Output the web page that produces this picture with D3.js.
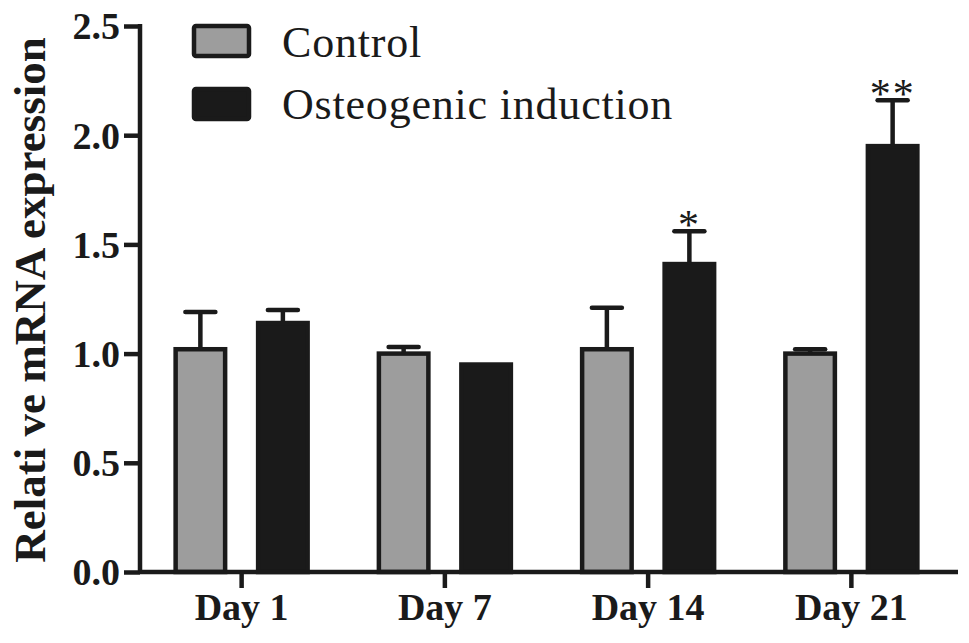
<!DOCTYPE html>
<html>
<head>
<meta charset="utf-8">
<script src="https://cdn.jsdelivr.net/npm/d3@7"></script>
<style>
  body { margin: 0; background: #fff; }
  svg text { font-family: "Liberation Serif", "Times New Roman", serif; }
</style>
</head>
<body>
<div id="chart"></div>
<script>
// datos
const dias = ["Day 1", "Day 7", "Day 14", "Day 21"]
const series = ["Control", "Osteogenic induction"]
const control = [1.02, 1.0, 1.02, 1.0]
const controlErr = [0.17, 0.03, 0.19, 0.02]
const induccion = [1.14, 0.95, 1.41, 1.95]
const induccionErr = [0.06, 0, 0.15, 0.21]
const signif = ["", "", "*", "**"]
const yTicks = [0, 0.5, 1.0, 1.5, 2.0, 2.5]

const anchoTotal = 969
const altoTotal = 643
const colores = { "Control": "#9d9d9d", "Osteogenic induction": "#1a1a1a" }
const negro = "#1a1a1a"

const svg = d3.select("#chart")
  .append("svg")
  .attr("width", anchoTotal)
  .attr("height", altoTotal)

const x0 = d3.scaleBand().domain(dias).range([140, 953])
const x1 = d3.scaleBand().domain(series).range([-66, 66]).paddingInner(0.4)
const y = d3.scaleLinear().domain([0, 2.5]).range([572, 26])

// filas de datos
const data = []
dias.forEach((d, i) => {
  data.push({ dia: d, serie: series[0], valor: control[i], err: controlErr[i], sig: "" })
  data.push({ dia: d, serie: series[1], valor: induccion[i], err: induccionErr[i], sig: signif[i] })
})
const cx = (d) => x0(d.dia) + x0.bandwidth() / 2 + x1(d.serie)

// barras
svg.append("g")
  .selectAll("rect")
  .data(data)
  .join("rect")
  .attr("x", (d) => cx(d))
  .attr("y", (d) => y(d.valor))
  .attr("width", x1.bandwidth())
  .attr("height", (d) => y(0) - y(d.valor))
  .attr("fill", (d) => colores[d.serie])
  .attr("stroke", negro)
  .attr("stroke-width", 4.5)

// barras de error (solo hacia arriba)
const gErr = svg.append("g").attr("stroke", negro).attr("stroke-width", 4.5)
data.filter((d) => d.err > 0).forEach((d) => {
  const xm = cx(d) + x1.bandwidth() / 2
  gErr.append("line")
    .attr("x1", xm).attr("x2", xm)
    .attr("y1", y(d.valor)).attr("y2", y(d.valor + d.err))
  gErr.append("line")
    .attr("x1", xm - 15).attr("x2", xm + 15)
    .attr("y1", y(d.valor + d.err)).attr("y2", y(d.valor + d.err))
    .attr("stroke-linecap", "round")
})

// asteriscos
svg.append("g")
  .selectAll("text")
  .data(data.filter((d) => d.sig))
  .join("text")
  .attr("x", (d) => cx(d) + x1.bandwidth() / 2)
  .attr("y", (d) => y(d.valor + d.err) + 8)
  .attr("text-anchor", "middle")
  .attr("font-size", 42)
  .attr("fill", negro)
  .attr("letter-spacing", 2)
  .text((d) => d.sig)

// ejes
const yAxis = d3.axisLeft(y).tickValues(yTicks).tickFormat(d3.format(".1f")).tickSize(16).tickPadding(4)
const gy = svg.append("g").attr("transform", "translate(140,0)").call(yAxis)
const xAxis = d3.axisBottom(x0).tickSize(16).tickPadding(5)
const gx = svg.append("g").attr("transform", `translate(0,${y(0)})`).call(xAxis)

;[gx, gy].forEach((g) => {
  g.select(".domain").attr("stroke", negro).attr("stroke-width", 4.5)
    .attr("d", g === gy ? `M0,${y(2.5) - 2}V${y(0)}` : `M140,0H958`)
  g.selectAll(".tick line").attr("stroke", negro).attr("stroke-width", 4.5)
  g.selectAll(".tick text")
    .attr("fill", negro)
    .attr("font-size", 38)
    .attr("font-weight", "bold")
    .attr("font-family", "Liberation Serif, serif")
})
gy.selectAll(".tick text").attr("dy", "0.34em")

// titulo eje y
svg.append("text")
  .attr("transform", "translate(45,300) rotate(-90)")
  .attr("text-anchor", "middle")
  .attr("font-size", 45)
  .attr("font-weight", "bold")
  .attr("fill", negro)
  .text("Relati ve mRNA expression")

// leyenda
const leyenda = svg.append("g")
series.forEach((s, i) => {
  leyenda.append("rect")
    .attr("x", 194).attr("y", 26 + i * 63)
    .attr("width", 55).attr("height", 30)
    .attr("rx", 2)
    .attr("fill", colores[s])
    .attr("stroke", negro)
    .attr("stroke-width", 4.5)
  leyenda.append("text")
    .attr("x", 282).attr("y", 57 + i * 62)
    .attr("font-size", 44)
    .attr("letter-spacing", 0.8)
    .attr("fill", negro)
    .text(s)
})
</script>
</body>
</html>
